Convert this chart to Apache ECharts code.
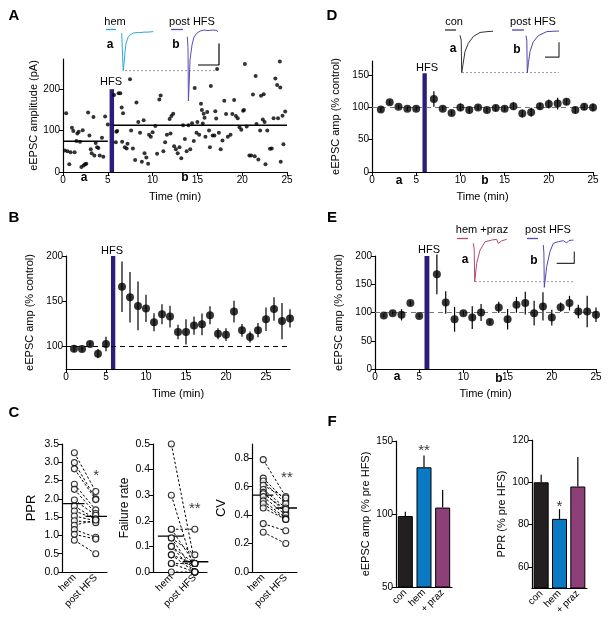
<!DOCTYPE html>
<html>
<head>
<meta charset="utf-8">
<script src="https://cdn.jsdelivr.net/npm/echarts@6/dist/echarts.min.js"></script>
<style>html,body{margin:0;background:#fff}#c{width:612px;height:624px}</style>
</head>
<body>
<div id="c"></div>
<script>
// ---------- data ----------
// A: single cell, amplitude (pA) vs time (min)
const aPoints = [
  [0.2,52],[0.35,142],[0.5,50],[0.7,19],[0.85,48],[1.0,107],[1.15,99],[1.3,48],[1.5,75],[1.6,93],
  [1.75,97],[1.9,73],[2.05,12],[2.2,101],[2.3,16],[2.45,19],[2.6,20],[2.8,144],[2.95,88],[3.1,55],
  [3.2,45],[3.4,133],[3.5,40],[3.65,70],[3.8,60],[3.95,58],[4.1,40],[4.35,83],[4.5,37],[4.7,134],[5.0,115],
  [5.7,186],[5.9,72],[5.95,97],[6.05,99],[6.2,190],[6.4,190],[6.55,156],[6.7,142],[6.6,73],[6.9,60],
  [7.1,57],[7.2,68],[7.48,224],[7.6,100],[7.8,57],[8.05,29],[8.2,168],[8.4,121],[8.6,95],[8.8,25],
  [9.0,125],[9.1,45],[9.3,35],[9.5,20],[9.6,90],[9.8,85],[10.0,96],[10.3,111],[10.5,44],[10.75,175],
  [10.9,185],[11.2,50],[11.4,72],[11.6,90],[11.9,128],[12.1,135],[12.3,141],[12.0,93],[12.4,62],[12.6,55],
  [12.8,45],[13.0,60],[13.2,33],[13.4,113],[13.6,80],[13.8,50],[14.0,113],[14.2,55],[14.4,118],[14.6,75],
  [14.7,203],[14.9,95],[15.0,121],[15.2,90],[15.4,165],[15.5,150],[15.6,117],[15.7,141],[15.8,131],[15.9,85],
  [16.1,145],[16.3,100],[16.5,208],[16.4,60],[16.7,88],[16.9,88],[17.0,147],[17.1,129],[17.2,249],[17.4,95],
  [17.6,55],[17.8,76],[18.0,172],[18.2,140],[18.4,85],[18.7,90],[18.9,140],[19.1,174],[19.3,135],[19.5,130],
  [19.7,108],[19.9,102],[20.1,148],[20.3,261],[20.2,150],[20.5,110],[20.8,40],[21.0,40],[21.2,187],[21.4,38],
  [21.5,232],[21.6,116],[21.8,30],[22.1,184],[22.4,188],[22.0,100],[22.3,127],[22.5,121],[22.6,19],[22.8,100],
  [23.1,56],[23.3,57],[23.5,130],[23.7,226],[23.9,210],[24.0,130],[24.2,267],[24.25,204],[24.3,25],[24.5,136],
  [24.6,67],[24.8,146]
];
const aPreMean = [[0,74],[5,74]];
const aPostMean = [[5.6,113],[25,113]];
const aHfs = [5.2, 5.7, 200];           // start, end, top
const aHemTrace = [[3.7,-2],[4.6,-5],[5.2,-75],[6.2,-58],[7,-38],[8,-22],[10.3,-9],[12.5,-5],[15.3,-2],[18,-1],[20,0],[22,-1],[24,1],[26,0],[28,1],[30,0],[32,2],[35.3,1]];
const aPostTrace = [[69.3,-9],[70,-30],[70.4,-134],[71.2,-100],[72,-54],[74,-25],[76,-9.5],[79,-2],[82,2],[86,4],[90,3],[95,4],[98,3.5],[100,1]];
const aScaleBar = [[80,-64],[101,-64],[101,-22]];
const aDotted = [[7,-75],[99,-75]];

// B: group mean (% control)
const bTime = [1,2,3,4,5,7,8,9,10,11,12,13,14,15,16,17,18,19,20,21,22,23,24,25,26,27,28];
const bMean = [97.4,97,102.6,92,102.6,166,154.4,144.8,142,126.7,135.5,133,116,116,123,124.4,134.4,114,113,138.5,117.8,110.4,118,130,141.5,128,131];
const bErr  = [4,3,3,5,8,28,28,27,15,10,11,12,8,14,10,12,10,6,7,12,7,6,8,13,13,20,10];
const bHfs = [5.62, 6.16, 200];

// C: paired hem / post HFS
const cPprHem  = [3.26,2.99,2.82,2.40,2.26,1.97,1.80,1.67,1.53,1.40,1.28,1.16,1.03,0.87];
const cPprPost = [2.20,2.00,1.98,1.70,1.60,1.55,1.45,1.45,1.40,1.35,1.42,0.95,0.90,0.50];
const cPprMean = [1.87, 1.52];
const cFrHem  = [0.5,0.3,0.167,0.167,0.133,0.133,0.1,0.1,0.067,0.067,0.033,0,0.033];
const cFrPost = [0.033,0,0.167,0.033,0.067,0,0.033,0,0.033,0,0.033,0,0];
const cFrMean = [0.14, 0.04];
const cCvHem  = [0.79,0.66,0.64,0.61,0.58,0.56,0.55,0.53,0.50,0.48,0.45,0.34,0.28];
const cCvPost = [0.53,0.50,0.48,0.52,0.45,0.42,0.44,0.40,0.38,0.37,0.37,0.29,0.20];
const cCvMean = [0.54, 0.45];
const cCats = ['hem', 'post HFS'];

// D: control group
const dTime = [1,2,3,4,5,7,8,9,10,11,12,13,14,15,16,17,18,19,20,21,22,23,24,25];
const dMean = [96.7,108,101,98,98,113,98,91.6,100,96,100,96,99,98,102,90.5,92.6,102,105.5,106,109,96,101,100];
const dErr  = [4,4,3,3,3,12,4,4,6,5,4,4,5,4,6,6,7,5,7,9,5,5,5,6];
const dHfs = [5.71, 6.2, 153];
const dConTrace = [[20,-8],[21.2,-20],[21.7,-100],[23,-80],[25,-48],[28.3,-28],[33.3,-11],[40,-1],[47,1],[53,2]];
const dPostTrace = [[86,-9],[86.8,-20],[87.3,-100],[88.5,-75],[90,-48],[93.3,-24],[98.3,-9],[106.7,1],[113,2],[119,2.5]];
const dScaleBar = [[105,-62],[119,-62],[119,-25]];
const dDotted = [[22,-100],[119,-100]];

// E: hem + prazosin
const eTime = [1,2,3,4,5,7,8,9,10,11,12,13,14,15,16,17,18,19,20,21,22,23,24,25];
const eMean = [94.7,98.8,95.9,116.6,94,167.5,117.8,88,98.8,91,100,83.4,109,88,113.6,116.6,98.8,110.7,91,109.5,116.6,101.8,101.8,96];
const eErr  = [3,3,10,4,3,35,20,22,4,20,15,4,10,18,14,20,22,25,14,8,13,12,28,13];
const eHfs = [5.6, 6.15, 200];
const eHemTrace = [[8.3,-6],[9.2,-20],[9.7,-100],[11.7,-55],[15,-23],[20,-2],[26.7,2],[31.7,4],[33.3,-6],[36.7,0],[41.7,4]];
const ePostTrace = [[78.3,-10],[78.9,-30],[79.3,-114],[81.7,-63],[85,-26],[88.3,-6],[93.3,-2],[98.3,0.5],[101.7,-5],[104,1],[108.3,2]];
const eScaleBar = [[91.7,-55],[109.3,-55],[109.3,-26]];
const eDotted = [[10,-100],[110,-100]];

// F: summary bars
const fCats = ['con', 'hem', '+ praz'];
const fColors = ['#231f20', '#0b7ac3', '#8d3f78'];
const fAmp = [98.6, 132, 104.4];
const fAmpErr = [3, 8, 12];
const fPpr = [100, 82.7, 98];
const fPprErr = [3.6, 4.6, 14];

// ---------- helpers ----------
const FONT = '"Liberation Sans", Arial, sans-serif';
const HFS_COLOR = '#2b1e7a';

function valAxis(grid, min, max, ticks, extra) {
  return Object.assign({
    type: 'value', gridIndex: grid, min: min, max: max,
    axisLine: { show: true, onZero: false, lineStyle: { color: '#000', width: 1.2 } },
    axisTick: { show: true, length: 4, customValues: ticks, lineStyle: { color: '#000', width: 1 } },
    axisLabel: { customValues: ticks, color: '#000', fontFamily: FONT, fontSize: 10, margin: 3 },
    splitLine: { show: false },
    nameMoveOverlap: false,
    nameTextStyle: { fontFamily: FONT, fontSize: 11, color: '#000' }
  }, extra || {});
}
function hidden(grid, min, max) {
  return { type: 'value', gridIndex: grid, min: min, max: max, show: false, splitLine: { show: false } };
}
function yName(name, gap, size) {
  return { name: name, nameLocation: 'middle', nameGap: gap,
    nameTextStyle: { fontFamily: FONT, fontSize: size || 11, color: '#000' } };
}
function timeName() {
  return { name: 'Time (min)', nameLocation: 'middle', nameGap: 19,
    nameTextStyle: { fontFamily: FONT, fontSize: 11, color: '#000' } };
}
function errRender(upOnly) {
  return function (params, api) {
    const x = api.value(0), y = api.value(1), e = api.value(2);
    const p1 = api.coord([x, upOnly ? y : y - e]);
    const p2 = api.coord([x, y + e]);
    return { type: 'line', shape: { x1: p1[0], y1: p1[1], x2: p2[0], y2: p2[1] },
      style: { stroke: '#000', lineWidth: 1.2 } };
  };
}
function line(ax, data, color, width, type) {
  return { type: 'line', xAxisIndex: ax, yAxisIndex: ax, data: data, symbol: 'none', silent: true,
    lineStyle: { color: color, width: width || 1, type: type || 'solid' }, z: 3 };
}
function hfsArea(h, base) {
  return { silent: true, itemStyle: { color: HFS_COLOR }, label: { show: false },
    data: [[{ xAxis: h[0], yAxis: base }, { xAxis: h[1], yAxis: h[2] }]] };
}
function hundredLine(color) {
  return { silent: true, symbol: 'none', label: { show: false },
    lineStyle: { color: color, type: [5, 4], width: 1.2 }, data: [{ yAxis: 100 }] };
}
function timecourse(ax, time, mean, err, hfs, base, dashColor) {
  return [
    { type: 'custom', xAxisIndex: ax, yAxisIndex: ax, renderItem: errRender(false),
      data: time.map((t, i) => [t, mean[i], err[i]]), z: 4, silent: true },
    { type: 'scatter', xAxisIndex: ax, yAxisIndex: ax, symbolSize: 8, itemStyle: { color: '#000' },
      data: time.map((t, i) => [t, mean[i]]), z: 5, silent: true,
      markLine: hundredLine(dashColor), markArea: hfsArea(hfs, base) }
  ];
}
function stars(ax, pts) {
  return { type: 'scatter', xAxisIndex: ax, yAxisIndex: ax, symbolSize: 1, itemStyle: { color: 'transparent' },
    data: pts, silent: true, z: 6,
    label: { show: true, position: 'inside', formatter: p => p.data[2], fontFamily: FONT, fontSize: 15, color: '#000' } };
}
function paired(ax, xs, hem, post, mean) {
  const out = [];
  hem.forEach((h, i) => out.push(line(ax, [[xs[0], h], [xs[1], post[i]]], '#000', 1, [2.5, 2])));
  out.push(line(ax, [[xs[0] - 0.5, mean[0]], [xs[0] + 0.45, mean[0]]], '#000', 1.3));
  out.push(line(ax, [[xs[1] - 0.45, mean[1]], [xs[1] + 0.5, mean[1]]], '#000', 1.3));
  out.push({ type: 'scatter', xAxisIndex: ax, yAxisIndex: ax, symbolSize: 6, silent: true, z: 5,
    itemStyle: { color: '#fff', borderColor: '#000', borderWidth: 1.1 },
    data: hem.map(v => [xs[0], v]).concat(post.map(v => [xs[1], v])) });
  return out;
}
function cXAxis(grid, xs) {
  return {
    type: 'value', gridIndex: grid, min: 0, max: 2,
    axisLine: { show: true, onZero: false, lineStyle: { color: '#000', width: 1.2 } },
    axisTick: { show: false },
    axisLabel: { customValues: xs, rotate: 45, margin: 4, color: '#000', fontFamily: FONT, fontSize: 10,
      formatter: v => (v < 1 ? cCats[0] : cCats[1]) },
    splitLine: { show: false }
  };
}
function fXAxis(grid) {
  return {
    type: 'category', gridIndex: grid, data: fCats,
    axisLine: { show: true, onZero: false, lineStyle: { color: '#000', width: 1.2 } },
    axisTick: { show: false },
    axisLabel: { rotate: 45, margin: 4, color: '#000', fontFamily: FONT, fontSize: 10, interval: 0 }
  };
}
function bars(ax, vals, errs) {
  return [
    { type: 'bar', xAxisIndex: ax, yAxisIndex: ax, barWidth: 15, silent: true,
      data: vals.map((v, i) => ({ value: v, itemStyle: { color: fColors[i], borderColor: '#000', borderWidth: 1 } })) },
    { type: 'custom', xAxisIndex: ax, yAxisIndex: ax, renderItem: errRender(true), silent: true, z: 1,
      data: vals.map((v, i) => [i, v, errs[i]]) }
  ];
}
function txt(x, y, s, font, fill) {
  return { type: 'text', x: x, y: y, silent: true, z: 100,
    style: { text: s, fill: fill || '#000', font: font || ('11px ' + FONT), align: 'center', verticalAlign: 'middle' } };
}
function seg(x1, y1, x2, y2, color) {
  return { type: 'line', silent: true, z: 100, shape: { x1: x1, y1: y1, x2: x2, y2: y2 },
    style: { stroke: color, lineWidth: 1.3 } };
}
const BOLD = 'bold 15px ' + FONT;
const BOLD_S = 'bold 12px ' + FONT;

const T5 = [0, 5, 10, 15, 20, 25];
const g = (left, top, width, height) => ({ left, top, width, height, outerBoundsMode: 'none' });

const option = {
  animation: false,
  backgroundColor: '#fff',
  grid: [
    g(63, 59, 224, 113),   // 0 A
    g(118, 28, 102, 74),   // 1 A inset
    g(66, 256, 224, 113),  // 2 B
    g(62, 444, 45, 128),   // 3 C PPR
    g(153, 444, 54, 128),  // 4 C failure
    g(252, 444, 45, 128),  // 5 C CV
    g(372, 61, 221, 111),  // 6 D
    g(440, 28, 122, 47),   // 7 D inset
    g(375, 256, 221, 113), // 8 E
    g(465, 236, 112, 53),  // 9 E inset
    g(396, 441, 56, 146),  // 10 F amp
    g(532, 440, 55, 148)   // 11 F PPR
  ],
  xAxis: [
    valAxis(0, 0, 25, T5, timeName()),
    hidden(1, 0, 102),
    valAxis(2, 0, 28, T5, timeName()),
    cXAxis(3, [0.55, 1.5]),
    cXAxis(4, [0.68, 1.55]),
    cXAxis(5, [0.5, 1.5]),
    valAxis(6, 0, 25, T5, timeName()),
    hidden(7, 0, 122),
    valAxis(8, 0, 25, T5, timeName()),
    hidden(9, 0, 112),
    fXAxis(10),
    fXAxis(11)
  ],
  yAxis: [
    valAxis(0, 0, 273, [0, 100, 200], yName('eEPSC amplitude (pA)', 24)),
    hidden(1, -136, 8),
    valAxis(2, 75, 200, [100, 150, 200], yName('eEPSC amp (% control)', 31)),
    valAxis(3, 0, 3.5, [0, 0.5, 1, 1.5, 2, 2.5, 3, 3.5],
      Object.assign(yName('PPR', 24, 13), { axisLabel: { customValues: [0, 0.5, 1, 1.5, 2, 2.5, 3, 3.5], formatter: v => v.toFixed(1), color: '#000', fontFamily: FONT, fontSize: 10.5, margin: 3 } })),
    valAxis(4, 0, 0.5, [0, 0.1, 0.2, 0.3, 0.4, 0.5],
      Object.assign(yName('Failure rate', 22, 12), { axisLabel: { customValues: [0, 0.1, 0.2, 0.3, 0.4, 0.5], formatter: v => v.toFixed(1), color: '#000', fontFamily: FONT, fontSize: 10.5, margin: 3 } })),
    valAxis(5, 0, 0.9, [0, 0.2, 0.4, 0.6, 0.8],
      Object.assign(yName('CV', 24, 13), { axisLabel: { customValues: [0, 0.2, 0.4, 0.6, 0.8], formatter: v => v.toFixed(1), color: '#000', fontFamily: FONT, fontSize: 10.5, margin: 3 } })),
    valAxis(6, 0, 172, [0, 50, 100, 150], yName('eEPSC amp (% control)', 31)),
    hidden(7, -106, 10),
    valAxis(8, 0, 200, [0, 50, 100, 150, 200], yName('eEPSC amp (% control)', 31)),
    hidden(9, -118, 12),
    valAxis(10, 50, 150, [50, 100, 150], yName('eEPSC amp (% pre HFS)', 25)),
    valAxis(11, 50, 120, [60, 80, 100, 120], yName('PPR (% pre HFS)', 25))
  ],
  series: [
    // A
    { type: 'scatter', xAxisIndex: 0, yAxisIndex: 0, data: aPoints, symbolSize: 4, silent: true,
      itemStyle: { color: '#000' }, z: 2, markArea: hfsArea(aHfs, 0) },
    line(0, aPreMean, '#000', 1.5),
    line(0, aPostMean, '#000', 1.5),
    line(1, aDotted, '#999', 1, [2, 2]),
    line(1, aHemTrace, '#2ea6de', 1),
    line(1, aPostTrace, '#5b4db3', 1),
    line(1, aScaleBar, '#000', 1.2),
    // B
    ...timecourse(2, bTime, bMean, bErr, bHfs, 75, '#000'),
    // C
    ...paired(3, [0.55, 1.5], cPprHem, cPprPost, cPprMean),
    ...paired(4, [0.68, 1.55], cFrHem, cFrPost, cFrMean),
    ...paired(5, [0.5, 1.5], cCvHem, cCvPost, cCvMean),
    stars(3, [[1.52, 2.62, '*']]),
    stars(4, [[1.55, 0.245, '**']]),
    stars(5, [[1.55, 0.66, '**']]),
    // D
    ...timecourse(6, dTime, dMean, dErr, dHfs, 0, '#777'),
    line(7, dDotted, '#999', 1, [2, 2]),
    line(7, dConTrace, '#333', 1),
    line(7, dPostTrace, '#4a44b0', 1),
    line(7, dScaleBar, '#333', 1.2),
    // E
    ...timecourse(8, eTime, eMean, eErr, eHfs, 0, '#777'),
    line(9, eDotted, '#999', 1, [2, 2]),
    line(9, eHemTrace, '#b24a78', 1),
    line(9, ePostTrace, '#5548b5', 1),
    line(9, eScaleBar, '#333', 1.2),
    // F
    ...bars(10, fAmp, fAmpErr),
    ...bars(11, fPpr, fPprErr),
    stars(10, [[1, 143, '**']]),
    stars(11, [[1, 88.5, '*']])
  ],
  graphic: [
    txt(14, 16, 'A', BOLD), txt(14, 218, 'B', BOLD), txt(14, 413, 'C', BOLD),
    txt(332, 16, 'D', BOLD), txt(332, 218, 'E', BOLD), txt(332, 422, 'F', BOLD),
    // A annotations
    txt(111, 82, 'HFS', '11px ' + FONT),
    txt(115, 22, 'hem'), seg(106, 29.5, 116, 29.5, '#2ea6de'),
    txt(192, 22, 'post HFS'), seg(171, 29.5, 183, 29.5, '#5b4db3'),
    txt(110, 45, 'a', BOLD_S), txt(176, 45, 'b', BOLD_S),
    txt(84, 178, 'a', BOLD_S), txt(185, 178, 'b', BOLD_S),
    // B
    txt(112, 251, 'HFS'),
    // D
    txt(427, 68, 'HFS'),
    txt(454, 22, 'con'), seg(445, 30, 456, 30, '#333'),
    txt(533, 22, 'post HFS'), seg(512, 30, 524, 30, '#4a44b0'),
    txt(453, 49, 'a', BOLD_S), txt(517, 50, 'b', BOLD_S),
    txt(399, 181, 'a', BOLD_S), txt(485, 181, 'b', BOLD_S),
    // E
    txt(429, 250, 'HFS'),
    txt(482, 230, 'hem +praz'), seg(457, 238.5, 468, 238.5, '#b24a78'),
    txt(548, 230, 'post HFS'), seg(527, 238.5, 538, 238.5, '#5548b5'),
    txt(465, 260, 'a', BOLD_S), txt(534, 261, 'b', BOLD_S),
    txt(397, 377, 'a', BOLD_S), txt(499, 379, 'b', BOLD_S)
  ]
};

const chart = echarts.init(document.getElementById('c'), null, { renderer: 'canvas', width: 612, height: 624 });
chart.setOption(option);
</script>
</body>
</html>
